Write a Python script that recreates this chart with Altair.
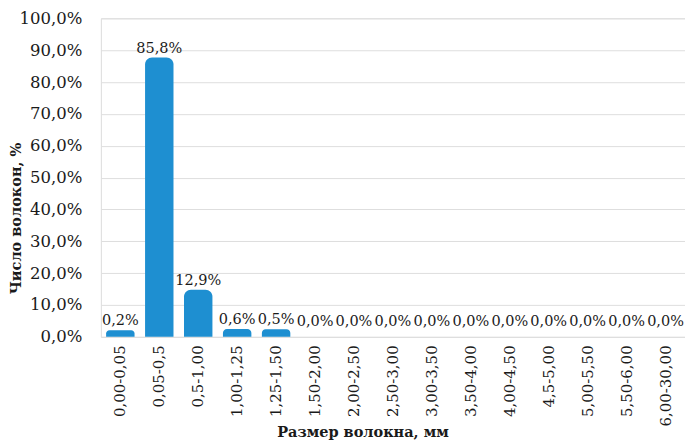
import altair as alt
import pandas as pd

categories = ["0,00-0,05", "0,05-0,5", "0,5-1,00", "1,00-1,25", "1,25-1,50",
              "1,50-2,00", "2,00-2,50", "2,50-3,00", "3,00-3,50", "3,50-4,00",
              "4,00-4,50", "4,5-5,00", "5,00-5,50", "5,50-6,00", "6,00-30,00"]
values = [0.2, 85.8, 12.9, 0.6, 0.5, 0.0, 0.0, 0.0, 0.0, 0.0, 0.0, 0.0, 0.0, 0.0, 0.0]
y_ticks = [0, 10, 20, 30, 40, 50, 60, 70, 80, 90, 100]

df = pd.DataFrame({"cat": categories, "val": values})
df["label"] = [f"{v:.1f}".replace(".", ",") + "%" for v in values]

FONT = "DejaVu Serif"
COLOR = "#1e8fd1"
TXT = "#1a1a1a"

x = alt.X("cat:N", sort=categories, title="Размер волокна, мм",
          scale=alt.Scale(paddingInner=0.27, paddingOuter=0.135),
          axis=alt.Axis(labelAngle=270, labelAlign="right", labelBaseline="middle",
                        labelPadding=8, ticks=False, domain=False,
                        labelFont=FONT, labelFontSize=15, labelColor=TXT,
                        titleFont=FONT, titleFontSize=14.5, titleFontWeight="bold",
                        titleColor=TXT, titleBaseline="middle", titleAlign="center",
                        titleX=262, titleY=96))
y = alt.Y("val:Q", title="Число волокон, %",
          scale=alt.Scale(domain=[0, 100], nice=False),
          axis=alt.Axis(values=y_ticks, ticks=False, domain=False, labelOverlap=False,
                        labelExpr="replace(format(datum.value, '.1f'), '.', ',') + '%'",
                        labelPadding=19, gridColor="#dedede",
                        labelFont=FONT, labelFontSize=16.5, labelColor=TXT,
                        titleFont=FONT, titleFontSize=14.5, titleFontWeight="bold",
                        titleColor=TXT, titleBaseline="middle", titleX=-84, titleY=200))

base = alt.Chart(df).encode(x=x, y=y)

bars = base.transform_filter("datum.val > 0").mark_bar(
    color=COLOR, yOffset=-6, y2Offset=0,
    cornerRadiusTopLeft=7, cornerRadiusTopRight=7).encode(y2=alt.datum(0))

labels = base.mark_text(font=FONT, fontSize=14.5, color=TXT, baseline="bottom",
                        dy=-8).encode(text="label:N")

chart = (bars + labels).properties(
    width=585, height=319,
    autosize=alt.AutoSizeParams(type="none"),
    padding={"left": 93, "top": 10, "right": 0, "bottom": 112},
).configure_view(stroke=None).configure(font=FONT)

chart.save("out.html", embed_options={"renderer": "svg", "actions": False})
